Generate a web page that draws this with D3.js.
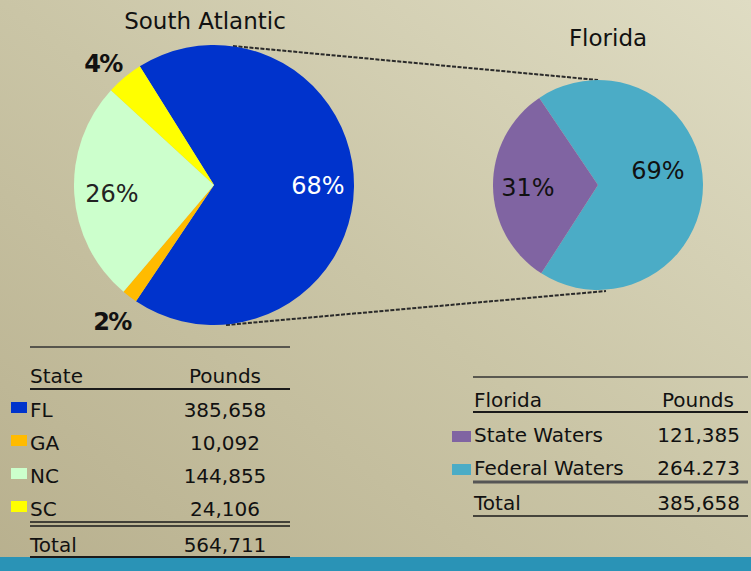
<!DOCTYPE html>
<html>
<head>
  <meta charset="UTF-8">
  <style>
    body { margin: 0; }
    svg { display: block; font-family: "DejaVu Sans", "Liberation Sans", sans-serif; }
  </style>
</head>
<body>
<svg></svg>
<script src="https://d3js.org/d3.v7.min.js"></script>
<script>

let width = 751, height = 571;

// data
const states = ["FL", "GA", "NC", "SC"];
const statePounds = [385658, 10092, 144855, 24106];
const statePoundLabels = ["385,658", "10,092", "144,855", "24,106"];
const stateTotalLabel = "564,711";
const stateColors = ["#0033cc", "#ffbb00", "#ccffcc", "#ffff00"];

const flWaters = ["Federal Waters", "State Waters"];
const flPounds = [264273, 121385];
const flPoundLabels = ["264.273", "121,385"];
const flTotalLabel = "385,658";
const flColors = ["#4bacc6", "#8064a2"];

let svg = d3.select("svg")
    .attr("width", width)
    .attr("height", height);

let defs = svg.append("defs");
let grad = defs.append("linearGradient")
    .attr("id", "bg")
    .attr("x1", "0%").attr("y1", "100%")
    .attr("x2", "100%").attr("y2", "0%");
grad.append("stop").attr("offset", "0%").attr("stop-color", "#b8b08e");
grad.append("stop").attr("offset", "50%").attr("stop-color", "#cac5a6");
grad.append("stop").attr("offset", "100%").attr("stop-color", "#dfdcc3");

svg.append("rect")
    .attr("width", width).attr("height", height)
    .attr("fill", "url(#bg)");

// teal band at bottom
svg.append("rect")
    .attr("x", 0).attr("y", 557)
    .attr("width", width).attr("height", height - 557)
    .attr("fill", "#2a93b6");

// connector lines (drawn first, under pies)
let connectors = [
    [[233, 46], [598, 80]],
    [[226, 325], [606, 291]]
];
svg.append("g").selectAll("line")
    .data(connectors)
    .enter().append("line")
    .attr("x1", d => d[0][0]).attr("y1", d => d[0][1])
    .attr("x2", d => d[1][0]).attr("y2", d => d[1][1])
    .attr("stroke", "#2a2a2a")
    .attr("stroke-width", 2)
    .attr("stroke-dasharray", "4,1.5");

const deg = Math.PI / 180;

// South Atlantic pie
let saPie = d3.pie().sort(null).startAngle(-32 * deg).endAngle(328 * deg);
let saArcs = saPie(statePounds);
let saR = 140;
let saArc = d3.arc().innerRadius(0).outerRadius(saR);
let saG = svg.append("g").attr("transform", "translate(214,185)");
saG.selectAll("path")
    .data(saArcs)
    .enter().append("path")
    .attr("d", saArc)
    .attr("fill", (d, i) => stateColors[i]);

let pct = d => Math.round((d.endAngle - d.startAngle) / (2 * Math.PI) * 100) + "%";

// label positions for each slice: [x, y, color, weight]
let saLabelPos = [
    [318, 194, "#ffffff", "normal"],
    [112, 330, "#111111", "bold"],
    [112, 202, "#222222", "normal"],
    [103, 72, "#111111", "bold"]
];
svg.append("g").selectAll("text")
    .data(saArcs)
    .enter().append("text")
    .attr("x", (d, i) => saLabelPos[i][0])
    .attr("y", (d, i) => saLabelPos[i][1])
    .attr("text-anchor", "middle")
    .attr("font-size", 24)
    .attr("font-weight", (d, i) => saLabelPos[i][3])
    .attr("letter-spacing", (d, i) => saLabelPos[i][3] == "bold" ? -1.5 : 0)
    .attr("fill", (d, i) => saLabelPos[i][2])
    .text(pct);

svg.append("text")
    .attr("x", 205).attr("y", 29)
    .attr("text-anchor", "middle")
    .attr("font-size", 23)
    .attr("fill", "#111")
    .text("South Atlantic");

// Florida pie
let flPie = d3.pie().sort(null).startAngle(-34 * deg).endAngle(326 * deg);
let flArcs = flPie(flPounds);
let flArc = d3.arc().innerRadius(0).outerRadius(105);
let flG = svg.append("g").attr("transform", "translate(598,185)");
flG.selectAll("path")
    .data(flArcs)
    .enter().append("path")
    .attr("d", flArc)
    .attr("fill", (d, i) => flColors[i]);

let flLabelPos = [[658, 179], [528, 196]];
svg.append("g").selectAll("text")
    .data(flArcs)
    .enter().append("text")
    .attr("x", (d, i) => flLabelPos[i][0])
    .attr("y", (d, i) => flLabelPos[i][1])
    .attr("text-anchor", "middle")
    .attr("font-size", 24)
    .attr("fill", "#111")
    .text(pct);

svg.append("text")
    .attr("x", 608).attr("y", 46)
    .attr("text-anchor", "middle")
    .attr("font-size", 23)
    .attr("fill", "#111")
    .text("Florida");

// helper for horizontal rules
function rule(x1, x2, y, w, c) {
    svg.append("line")
        .attr("x1", x1).attr("x2", x2)
        .attr("y1", y).attr("y2", y)
        .attr("stroke", c || "#1a1a1a")
        .attr("stroke-width", w || 1.5);
}

// left table
let tl = svg.append("g").attr("font-size", 20).attr("fill", "#111");
rule(30, 290, 347, 1.5, "#333");
tl.append("text").attr("x", 30).attr("y", 383).text("State");
tl.append("text").attr("x", 225).attr("y", 383).attr("text-anchor", "middle").text("Pounds");
rule(30, 290, 389, 2);
let rowY = d3.scalePoint().domain(states).range([417, 516]);
tl.selectAll("rect.sw")
    .data(states)
    .enter().append("rect")
    .attr("class", "sw")
    .attr("x", 11).attr("y", d => rowY(d) - 15)
    .attr("width", 16).attr("height", 11)
    .attr("fill", (d, i) => stateColors[i]);
tl.selectAll("text.st")
    .data(states)
    .enter().append("text")
    .attr("class", "st")
    .attr("x", 30).attr("y", d => rowY(d))
    .text(d => d);
tl.selectAll("text.lb")
    .data(states)
    .enter().append("text")
    .attr("class", "lb")
    .attr("x", 225).attr("y", d => rowY(d))
    .attr("text-anchor", "middle")
    .text((d, i) => statePoundLabels[i]);
rule(30, 290, 522, 1.5);
rule(30, 290, 526, 1.5);
tl.append("text").attr("x", 30).attr("y", 552).text("Total");
tl.append("text").attr("x", 225).attr("y", 552).attr("text-anchor", "middle").text(stateTotalLabel);
rule(30, 290, 557, 2);

// right table
let tr = svg.append("g").attr("font-size", 20).attr("fill", "#111");
rule(473, 748, 377, 1.5, "#333");
tr.append("text").attr("x", 474).attr("y", 407).text("Florida");
tr.append("text").attr("x", 734).attr("y", 407).attr("text-anchor", "end").text("Pounds");
rule(473, 748, 412, 2);
// table lists state waters first
let flRows = [1, 0];
let flRowY = d3.scalePoint().domain(flRows).range([442, 475]);
tr.selectAll("rect.sw")
    .data(flRows)
    .enter().append("rect")
    .attr("class", "sw")
    .attr("x", 452).attr("y", d => flRowY(d) - 11)
    .attr("width", 19).attr("height", 11)
    .attr("fill", d => flColors[d]);
tr.selectAll("text.nm")
    .data(flRows)
    .enter().append("text")
    .attr("class", "nm")
    .attr("x", 474).attr("y", d => flRowY(d))
    .text(d => flWaters[d]);
tr.selectAll("text.lb")
    .data(flRows)
    .enter().append("text")
    .attr("class", "lb")
    .attr("x", 740).attr("y", d => flRowY(d))
    .attr("text-anchor", "end")
    .text(d => flPoundLabels[d]);
rule(473, 748, 482, 3, "#555");
tr.append("text").attr("x", 474).attr("y", 510).text("Total");
tr.append("text").attr("x", 740).attr("y", 510).attr("text-anchor", "end").text(flTotalLabel);
rule(473, 748, 516, 1.5);

</script>
</body>
</html>
